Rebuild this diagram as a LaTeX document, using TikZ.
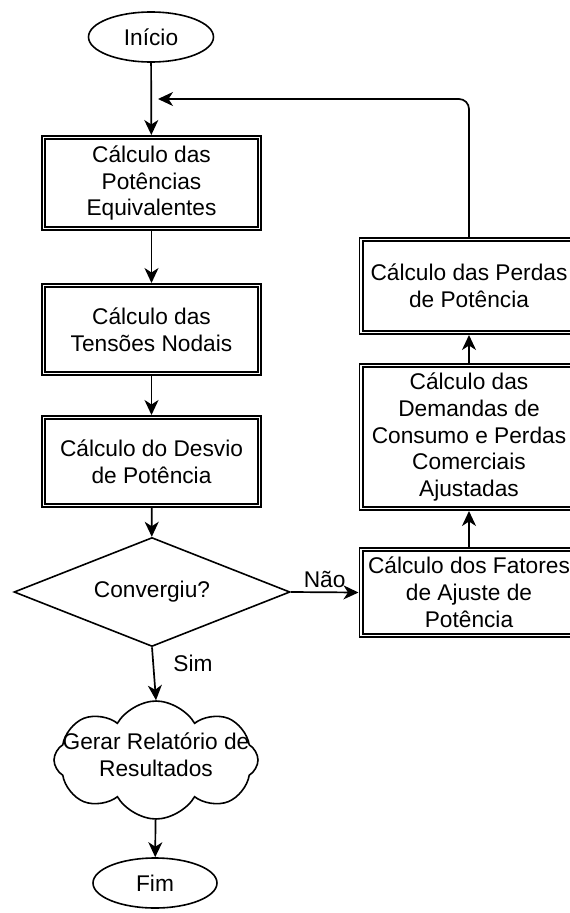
\documentclass[tikz,border=0pt]{standalone}
\usepackage{fontspec}
\setmainfont{Liberation Sans}
\usetikzlibrary{shapes.geometric, shapes.symbols, arrows.meta, positioning}

\begin{document}
\begin{tikzpicture}[x=1pt, y=-1pt,
    font=\fontsize{22.7}{26.8}\selectfont,
    block/.style={rectangle, draw, double, line width=1.6pt, double distance=1.8pt, outer sep=2.5pt, minimum width=216pt, align=center, inner sep=0pt},
    term/.style={ellipse, draw, line width=1.6pt, fill=white, minimum width=125pt, minimum height=50pt},
    decision/.style={diamond, draw, line width=1.6pt, aspect=2.5, minimum width=276pt, minimum height=109pt, inner sep=0pt},
    arrow/.style={line width=1.7pt, -{Stealth[length=15pt, width=14pt, inset=4.5pt]}}]

    \path[use as bounding box, clip] (0,0) rectangle (570,913);

    % Main column
    \node [term] (inicio) at (151,37) {Início};
    \node [block, minimum height=91pt] (potencias) at (151.5,183) {Cálculo das\\Potências\\Equivalentes};
    \node [block, minimum height=88pt] (tensoes) at (151.5,329.5) {Cálculo das\\Tensões Nodais};
    \node [block, minimum height=88pt] (desvio) at (151.5,461.5) {Cálculo do Desvio\\de Potência};
    \node [decision] (conv) at (152,592) {Convergiu?};
    \node [cloud, draw, line width=1.6pt, cloud puffs=8, cloud puff arc=120, cloud ignores aspect,
        minimum width=204pt, minimum height=118pt, inner sep=0pt,
        label={[align=center, yshift=5pt]center:Gerar Relatório de\\Resultados}] (relatorio) at (156,760) {};
    \node [term, minimum width=124pt] (fim) at (155,883) {Fim};

    % Adjustment column
    \node [block, minimum height=86pt] (fatores) at (469,592.5) {Cálculo dos Fatores\\de Ajuste de\\Potência};
    \node [block, minimum height=143pt] (demandas) at (469,437) {Cálculo das\\Demandas de\\Consumo e Perdas\\Comerciais\\Ajustadas};
    \node [block, minimum height=93pt] (perdas) at (469,286) {Cálculo das Perdas\\de Potência};
    \coordinate (retorno) at (158,99);

    % Arrows
    \draw [arrow] (inicio) -- (potencias);
    \draw [arrow] (potencias) -- (tensoes);
    \draw [arrow] (tensoes) -- (desvio);
    \draw [arrow] (desvio) -- (conv);
    \draw [arrow] (conv.south) -- node [pos=0.3, anchor=west, xshift=16pt] {Sim} (relatorio.north);
    \draw [arrow] (relatorio) -- (fim);
    \draw [arrow] (conv.east) -- node [above, inner sep=4pt] {Não} (fatores.west);
    \draw [arrow] (fatores) -- (demandas);
    \draw [arrow] (demandas) -- (perdas);
    \draw [arrow, rounded corners=10pt] (perdas.north) |- (retorno);
\end{tikzpicture}
\end{document}
